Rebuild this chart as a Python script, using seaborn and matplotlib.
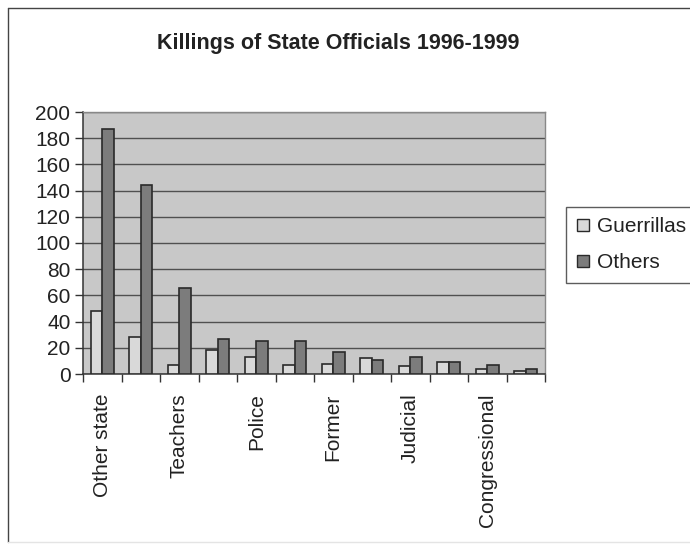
import numpy as np
import pandas as pd
import matplotlib
matplotlib.use('Agg')
import matplotlib.pyplot as plt
import seaborn as sns
from matplotlib.lines import Line2D

# data (12 groups, only every other one labelled)
tick_labels = ['Other state', '', 'Teachers', '', 'Police', '', 'Former', '',
               'Judicial', '', 'Congressional', '']
guerrillas = [48, 28, 7, 18, 13, 7, 8, 12, 6, 9, 4, 2.5]
others = [187, 144, 66, 27, 25, 25, 17, 11, 13, 9, 7, 4]
series_names = ['Guerrillas', 'Others']
y_ticks = list(range(0, 201, 20))

cats = [f'c{i}' for i in range(len(tick_labels))]
df = pd.DataFrame({
    'cat': cats * 2,
    'series': [series_names[0]] * len(cats) + [series_names[1]] * len(cats),
    'value': guerrillas + others,
})

sns.set_style('white')
plt.rcParams['font.family'] = ['Liberation Sans', 'DejaVu Sans']
text_col = '#222222'

W, H = 690, 549
fig = plt.figure(figsize=(W / 100, H / 100), dpi=100)
ax = fig.add_axes([83 / W, 1 - 374 / H, (545 - 83) / W, (374 - 112) / H])
ax.set_facecolor('#c8c8c8')

palette = {'Guerrillas': '#d9d9d9', 'Others': '#7c7c7c'}
sns.barplot(data=df, x='cat', y='value', hue='series', order=cats,
            hue_order=series_names, palette=palette, width=0.6, gap=0,
            edgecolor='#2a2a2a', linewidth=1.2, saturation=1, ax=ax,
            legend=False, zorder=3)

ax.set_ylim(0, 200)
ax.set_xlim(-0.5, len(cats) - 0.5)
ax.set_yticks(y_ticks)
ax.yaxis.grid(True, color='#505050', linewidth=1.0, zorder=0)
ax.set_axisbelow(True)
ax.set_xlabel('')
ax.set_ylabel('')

ax.set_xticks(range(len(cats)))
ax.set_xticklabels(tick_labels, rotation=90, fontsize=15, color=text_col)
ax.set_xticks(np.arange(-0.5, len(cats), 1), minor=True)
ax.tick_params(axis='x', which='major', length=0, pad=14)
ax.tick_params(axis='x', which='minor', length=6, width=1, color='#333333',
               direction='out', bottom=True)
ax.tick_params(axis='y', length=6, width=1, color='#333333', direction='out',
               left=True, labelsize=15, labelcolor=text_col, pad=3)

for side in ['left', 'bottom']:
    ax.spines[side].set_color('#333333')
    ax.spines[side].set_linewidth(1.1)
for side in ['top', 'right']:
    ax.spines[side].set_color('#888888')
    ax.spines[side].set_linewidth(1)

fig.text(338 / W, 1 - 44 / H, 'Killings of State Officials 1996-1999',
         ha='center', va='center', fontsize=15.5, fontweight='bold',
         color=text_col)

handles = [Line2D([0], [0], marker='s', linestyle='none', markersize=9,
                  markerfacecolor=palette[n], markeredgecolor='#2a2a2a',
                  markeredgewidth=1) for n in series_names]
leg = fig.legend(handles, series_names, loc='upper left',
                 bbox_to_anchor=(566 / W, 1 - 207 / H), fontsize=15,
                 frameon=True, fancybox=False, edgecolor='#333333',
                 handlelength=0.6, handletextpad=0.4, labelspacing=0.8,
                 borderpad=0.5, borderaxespad=0)
leg.get_frame().set_linewidth(1)
for t in leg.get_texts():
    t.set_color(text_col)

# outer chart-area border
fig.add_artist(Line2D([8 / W, 8 / W], [1 - 8 / H, 1 - 542 / H],
                      transform=fig.transFigure, color='#444444', lw=1))
fig.add_artist(Line2D([8 / W, 1], [1 - 8 / H, 1 - 8 / H],
                      transform=fig.transFigure, color='#444444', lw=1))
fig.add_artist(Line2D([8 / W, 1], [1 - 542 / H, 1 - 542 / H],
                      transform=fig.transFigure, color='#e4e4e4', lw=1))

fig.savefig('out.png', dpi=100, facecolor='white')
